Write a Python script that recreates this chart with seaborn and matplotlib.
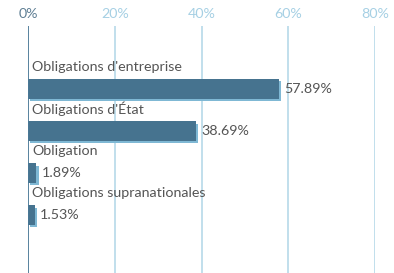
import numpy as np
import pandas as pd
from matplotlib import pyplot as plt
from matplotlib import patheffects as pe
import seaborn as sb

# data
categories = ["Obligations d'entreprise", "Obligations d'État", "Obligation", "Obligations supranationales"]
shares = [57.89, 38.69, 1.89, 1.53]
ticks = [0, 20, 40, 60, 80]
tick_labels = ['0%', '20%', '40%', '60%', '80%']

bar_col = '#46738f'
shadow_col = '#7fb8d4'
grid_col = '#bcdcea'
text_col = '#555555'

df = pd.DataFrame({'cat': categories, 'share': shares})

sb.set_style('white')
plt.rcParams['font.family'] = ['Lato', 'DejaVu Sans']

fig = plt.figure(figsize=(3.94, 2.73), dpi=100)
ax = fig.add_axes([28 / 394, 0, (375 - 28) / 394, 247 / 273])

sb.barplot(data=df, x='share', y='cat', orient='h', color=bar_col, width=0.47,
           saturation=1, edgecolor='none', linewidth=0, ax=ax, zorder=3)
for p in ax.patches:
    p.set_path_effects([pe.SimplePatchShadow(offset=(1.7, -1.7), shadow_rgbFace=shadow_col, alpha=1),
                        pe.Normal()])

ax.set_xlim(0, 80)
ax.set_ylim(4.38, -1.5)

# category labels above bars, values to the right
for i, (c, v) in enumerate(zip(categories, shares)):
    ax.text(0.9, i - 0.52, c, ha='left', va='center', fontsize=10.3, color=text_col, zorder=4)
    ax.text(v + 1.2, i, f'{v:.2f}%', ha='left', va='center', fontsize=10.3, color=text_col, zorder=4)

ax.set_xticks(ticks)
ax.set_xticklabels(tick_labels, fontsize=10.3)
ax.xaxis.tick_top()
ax.tick_params(axis='x', length=0, pad=4)
for lab in ax.get_xticklabels():
    lab.set_color('#a6d0e4')
ax.get_xticklabels()[0].set_color('#5f7f94')
ax.set_yticks([])
ax.set_xlabel('')
ax.set_ylabel('')

for t in ticks[1:]:
    ax.axvline(t, color=grid_col, lw=1.3, zorder=1)
ax.axvline(0, color='#4a7896', lw=1.3, zorder=5)

for s in ax.spines.values():
    s.set_visible(False)

fig.savefig('out.png', dpi=100)
